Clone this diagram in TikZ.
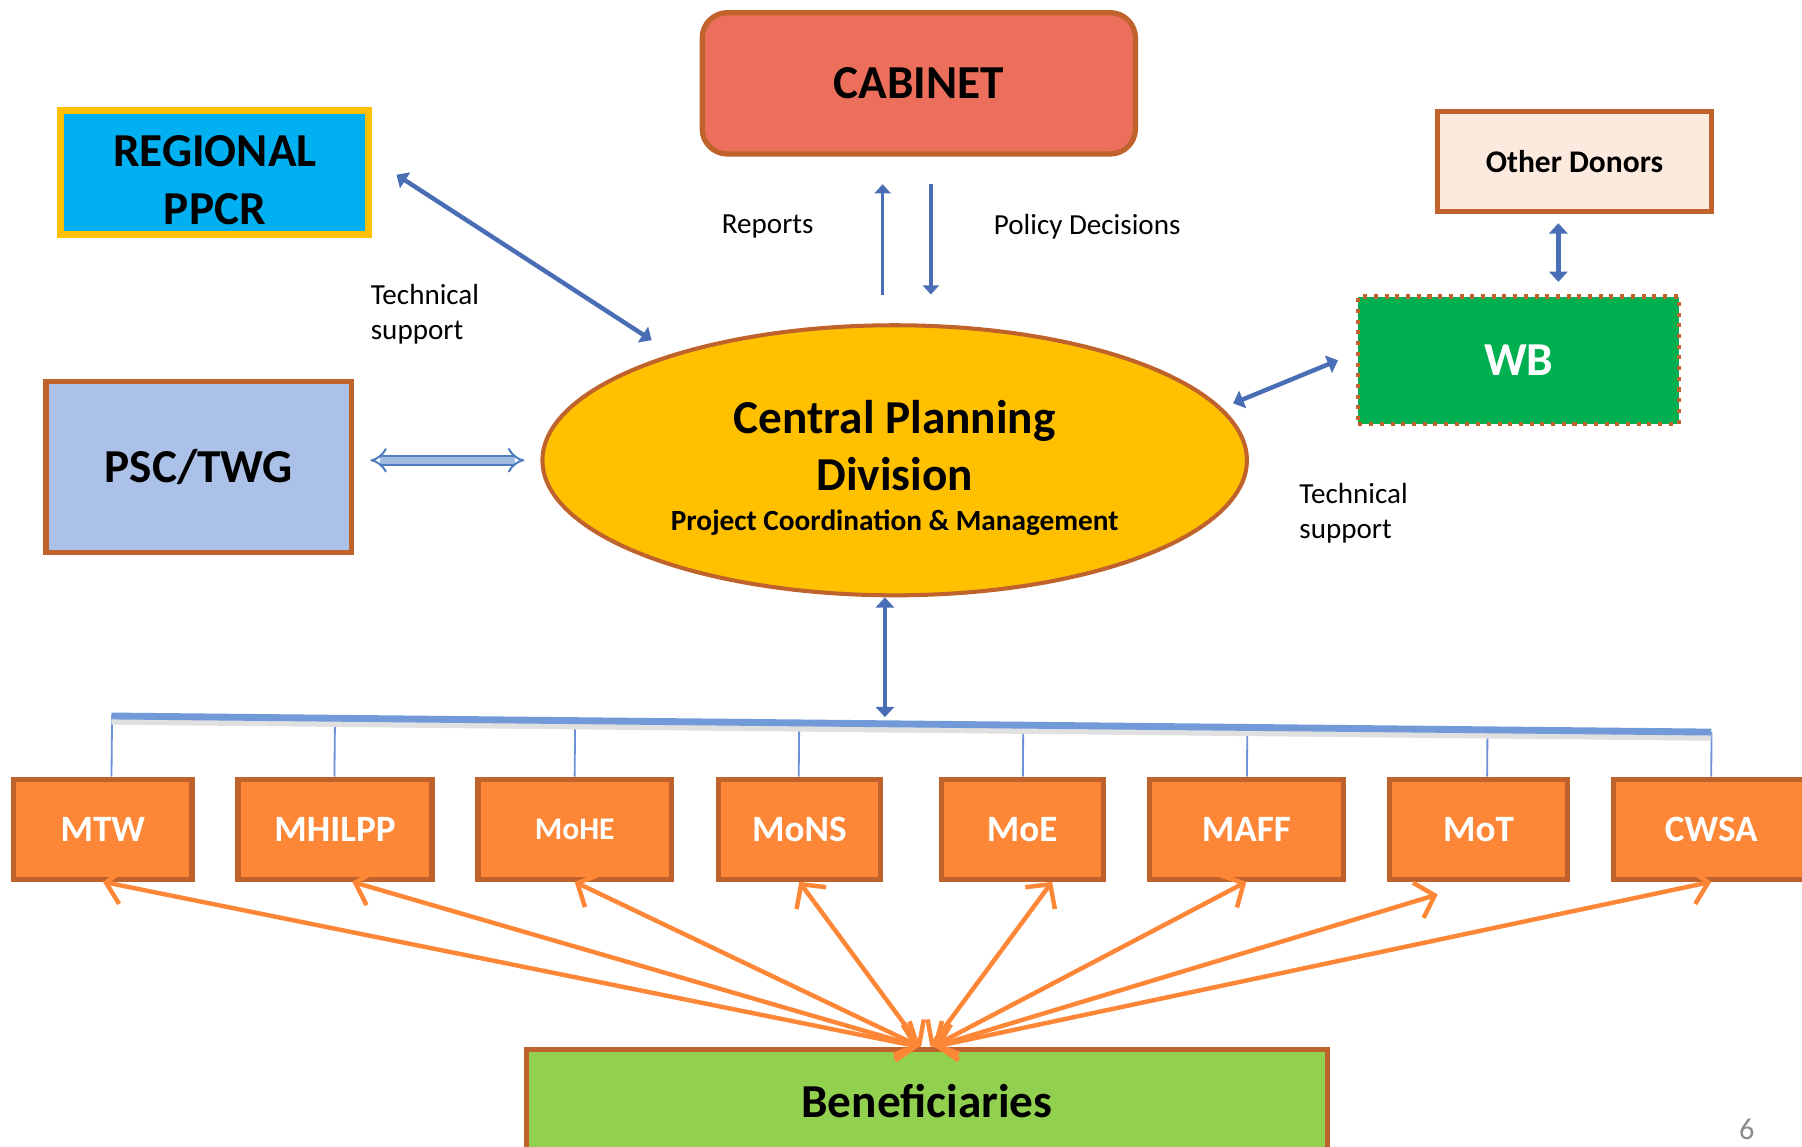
\documentclass[tikz,border=0pt]{standalone}
\usepackage{fontspec}
\setmainfont{Carlito}
\usetikzlibrary{arrows.meta,calc,shapes.geometric}

\definecolor{brownedge}{RGB}{192,98,43}
\definecolor{cabinetfill}{RGB}{235,111,91}
\definecolor{regionalfill}{RGB}{0,176,240}
\definecolor{regionaledge}{RGB}{255,192,0}
\definecolor{pscfill}{RGB}{171,193,231}
\definecolor{cpdfill}{RGB}{255,192,0}
\definecolor{donorfill}{RGB}{253,234,223}
\definecolor{wbfill}{RGB}{0,176,80}
\definecolor{ministryfill}{RGB}{253,135,55}
\definecolor{benfill}{RGB}{146,208,80}
\definecolor{arrowblue}{RGB}{74,110,181}
\definecolor{barblue}{RGB}{114,153,216}
\definecolor{dropblue}{RGB}{109,145,216}
\definecolor{pscline}{RGB}{79,125,189}
\definecolor{psclight}{RGB}{160,188,226}
\definecolor{orangearrow}{RGB}{253,135,55}

\tikzset{
  box/.style={draw=brownedge, line width=1.3pt, inner sep=0pt},
  bigtext/.style={font=\bfseries\fontsize{11.7}{14.2}\selectfont},
  smalltext/.style={font=\fontsize{7.2}{8.8}\selectfont, inner sep=0pt},
  ministry/.style={box, fill=ministryfill, text=white, minimum height=0.87cm,
    font=\bfseries\fontsize{9.2}{11}\selectfont},
  bluearrow/.style={draw=arrowblue, line width=1.1pt,
    {Triangle[length=0.9mm,width=1.6mm]}-{Triangle[length=0.9mm,width=1.6mm]}},
  thinarrow/.style={draw=arrowblue, line width=0.9pt},
  pscarrow/.style={draw=pscline, line width=0.5pt, double=psclight, double distance=1.6pt,
    {Implies}-{Implies}},
  dropline/.style={draw=dropblue, line width=0.45pt},
  bar/.style={draw=barblue, line width=1.7pt,
    preaction={draw=black!12, line width=1.7pt, transform canvas={yshift=-1.3pt}}},
  benarrow/.style={draw=orangearrow, line width=1.1pt,
    {Straight Barb[length=1.5mm,width=3.2mm]}-{Straight Barb[length=1.5mm,width=3.2mm]}}
}

\begin{document}
\begin{tikzpicture}
  \useasboundingbox [fill=white] (0,0) rectangle (15.68,-9.98);

  % top row
  \node [box, rounded corners=0.22cm, fill=cabinetfill, minimum width=3.77cm,
    minimum height=1.23cm, bigtext] (cabinet) at (7.995,-0.725) {CABINET};
  \node [box, draw=regionaledge, line width=1.7pt, fill=regionalfill, minimum width=2.68cm,
    minimum height=1.08cm, align=center, bigtext] (regional) at (1.87,-1.50)
    {\rule{0pt}{11.5pt}REGIONAL\\PPCR};
  \node [box, fill=donorfill, minimum width=2.38cm, minimum height=0.87cm,
    font=\bfseries\fontsize{7.8}{9.5}\selectfont] (donors) at (13.70,-1.405) {Other Donors};
  \node [box, line width=1pt, dash pattern=on 1pt off 1.65pt, fill=wbfill, text=white,
    minimum width=2.79cm, minimum height=1.11cm, bigtext] (wb) at (13.215,-3.135) {WB};

  % middle row
  \node [box, fill=pscfill, minimum width=2.66cm, minimum height=1.49cm, bigtext] (psc)
    at (1.73,-4.065) {PSC/TWG};
  \node [ellipse, draw=brownedge, line width=1pt, fill=cpdfill, minimum width=6.13cm,
    minimum height=2.35cm, inner sep=0pt, align=center, bigtext] (cpd) at (7.785,-4.005)
    {\rule{0pt}{12pt}Central Planning\\Division\\[-4.2pt]{\fontsize{7.25}{9}\selectfont Project Coordination \& Management}};

  % ministries
  \node [ministry, minimum width=1.55cm] (mtw) at (0.895,-7.215) {MTW};
  \node [ministry, minimum width=1.69cm] (mhilpp) at (2.915,-7.215) {MHILPP};
  \node [ministry, minimum width=1.68cm, font=\bfseries\fontsize{7.8}{9}\selectfont] (mohe)
    at (5.00,-7.215) {MoHE};
  \node [ministry, minimum width=1.41cm] (mons) at (6.955,-7.215) {MoNS};
  \node [ministry, minimum width=1.41cm] (moe) at (8.895,-7.215) {MoE};
  \node [ministry, minimum width=1.69cm] (maff) at (10.845,-7.215) {MAFF};
  \node [ministry, minimum width=1.55cm] (mot) at (12.865,-7.215) {MoT};
  \node [ministry, minimum width=1.70cm] (cwsa) at (14.89,-7.215) {CWSA};

  \node [box, fill=benfill, minimum width=6.97cm, minimum height=0.90cm, bigtext] (ben)
    at (8.065,-9.58) {Beneficiaries};

  % labels
  \node [smalltext] (reports) at (6.68,-1.97) {Reports};
  \node [smalltext] (policy) at (9.46,-1.97) {Policy Decisions};
  \node [smalltext, anchor=west, align=left] (techl) at (3.22,-2.735) {Technical\\support};
  \node [smalltext, anchor=west, align=left] (techr) at (11.30,-4.465) {Technical\\support};
  \node [font=\fontsize{7.5}{9}\selectfont, text=black!45] (page) at (15.20,-9.83) {6};

  % arrows to and from the division
  \coordinate (rep) at (7.68,-2.0);
  \coordinate (pol) at (8.10,-2.0);
  \coordinate (dn) at (13.56,-2.0);
  \coordinate (regtip) at (5.67,-2.96);
  \coordinate (wbtip) at (10.73,-3.51);
  \draw [thinarrow, -{Triangle[length=0.8mm,width=1.4mm]}, shorten <=0.25cm, shorten >=0.24cm]
    (cpd.north -| rep) -- (cabinet.south -| rep);
  \draw [thinarrow, -{Triangle[length=0.8mm,width=1.4mm]}, shorten <=0.24cm, shorten >=0.25cm]
    (cabinet.south -| pol) -- (cpd.north -| pol);
  \draw [bluearrow] ([shift={(0.21,-0.02)}]regional.east) -- (regtip);
  \draw [bluearrow] ([xshift=-0.16cm]wb.west) -- (wbtip);
  \draw [bluearrow, shorten <=0.08cm, shorten >=0.11cm] (donors.south -| dn) -- (wb.north -| dn);
  \draw [pscarrow, shorten <=0.14cm, shorten >=0.14cm] (psc.east |- cpd.west) -- (cpd.west);

  % bar to the ministries
  \coordinate (barL) at (0.97,-6.23);
  \coordinate (barR) at (14.89,-6.37);
  \coordinate (hub) at (7.70,-6.24);
  \foreach \name/\x in {mtw/0.97, mhilpp/2.91, mohe/5.00, mons/6.95, moe/8.90, maff/10.85,
    mot/12.94, cwsa/14.89} {
    \coordinate (d) at (\x,0);
    \draw [dropline] (\name.north -| d) -- ($(barL)!(\name.north -| d)!(barR)$);
  }
  \draw [bar] (barL) -- (barR);
  \draw [bluearrow] (hub |- cpd.south) -- (hub);

  % beneficiaries
  \foreach \name/\dx/\dy/\bx in {mtw/0/0/-0.07, mhilpp/0.15/0/-0.07, mohe/0/0/-0.06,
    mons/0/0/-0.05, moe/0.26/0/0.03, maff/0/0/0.05, mot/-0.355/-0.11/0.06, cwsa/0/0/0.07}
    \draw [benarrow] ([shift={(\dx,\dy)}]\name.south) -- ([xshift=\bx cm]ben.north);
\end{tikzpicture}
\end{document}
